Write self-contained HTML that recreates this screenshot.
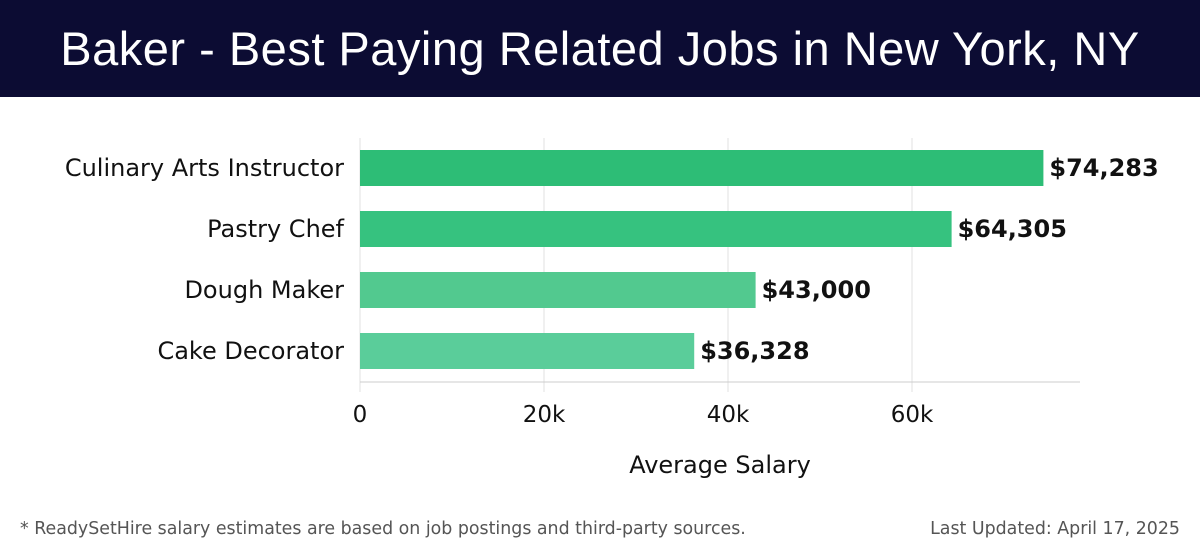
<!DOCTYPE html>
<html><head><meta charset="utf-8"><style>
body{margin:0;width:1200px;height:558px;background:#fff;overflow:hidden;font-family:"DejaVu Sans","Liberation Sans",sans-serif;}
#hdr{position:absolute;left:0;top:0;width:1200px;height:97px;background:#0c0c33;color:#fff;font-family:"Liberation Sans",sans-serif;font-size:47px;letter-spacing:0.5px;text-align:center;line-height:97px;}
svg{position:absolute;left:0;top:0;font-family:"DejaVu Sans",sans-serif;}
.foot{position:absolute;top:519px;font-size:17.4px;color:#555;}
</style></head><body>
<div id="hdr">Baker - Best Paying Related Jobs in New York, NY</div>
<svg id="chart" width="1200" height="558"></svg>
<div class="foot" style="left:20px">* ReadySetHire salary estimates are based on job postings and third-party sources.</div>
<div class="foot" style="right:20px">Last Updated: April 17, 2025</div>
<script>
const categories=["Culinary Arts Instructor","Pastry Chef","Dough Maker","Cake Decorator"];
const values=[74283,64305,43000,36328];
const labels=["$74,283","$64,305","$43,000","$36,328"];
const ticks=[0,20000,40000,60000];
const tickLabels=["0","20k","40k","60k"];
const colors=["#2dbd76","#36c27f","#52c98f","#5acd9a"];
const svg=document.getElementById('chart');const NS="http://www.w3.org/2000/svg";
const x=v=>360+v*184/20000;
const yc=i=>168+i*61;
function mk(t,a,p){const e=document.createElementNS(NS,t);for(const k in a)e.setAttribute(k,a[k]);(p||svg).appendChild(e);return e;}
ticks.forEach((t,i)=>{
 const g=mk('line',{x1:x(t),x2:x(t),y1:138,y2:392,stroke:'#e0e0e0','stroke-width':1});
 
 
 const tx=mk('text',{x:x(t),y:422,'text-anchor':'middle','font-size':23,fill:'#111'});tx.textContent=tickLabels[i];
 
 
});
const ax=mk('line',{x1:360,x2:1080,y1:382,y2:382,stroke:'#ccc','stroke-width':1});


categories.forEach((c,i)=>{
 const r=mk('rect',{x:x(0),y:yc(i)-18,width:x(values[i])-x(0),height:36,fill:colors[i]});
 
 
 const l=mk('text',{x:344,y:yc(i)+8,'text-anchor':'end','font-size':24,fill:'#111'});l.textContent=c;
 
 
 const v=mk('text',{x:x(values[i])+6,y:yc(i)+8,'font-size':24,'font-weight':'bold',fill:'#111'});v.textContent=labels[i];
 
 
});
const at=mk('text',{x:720,y:473,'text-anchor':'middle','font-size':24,fill:'#111'});at.textContent="Average Salary";


</script>
</body></html>
